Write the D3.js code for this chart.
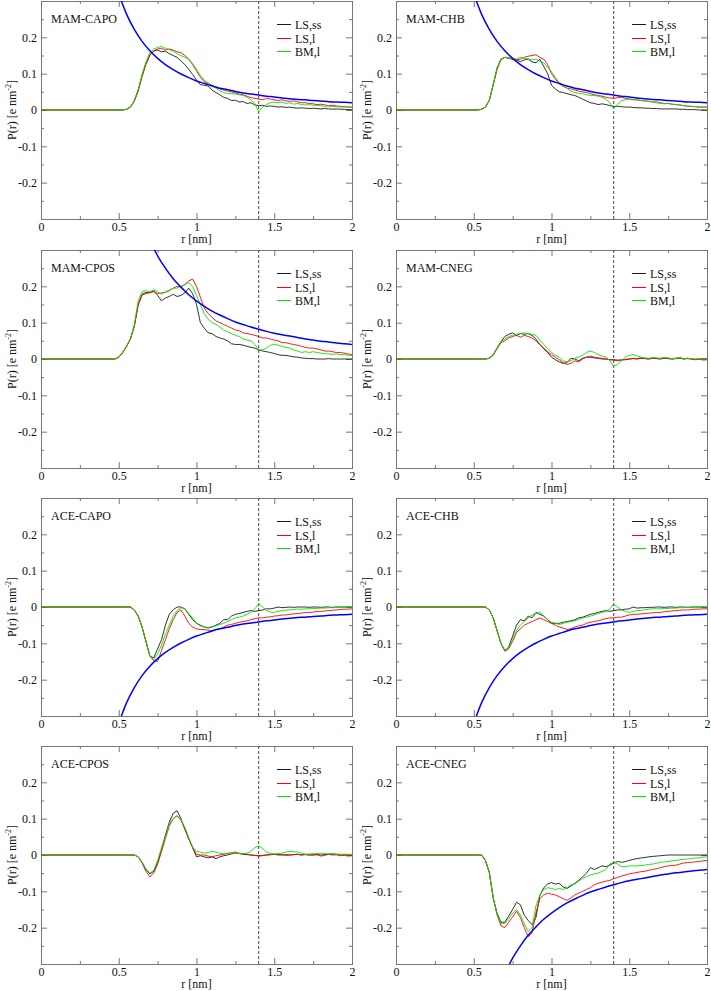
<!DOCTYPE html>
<html><head><meta charset="utf-8">
<script src="https://cdn.jsdelivr.net/npm/d3@7"></script>
<style>body{margin:0;background:#fff}svg{display:block}text{font-family:'Liberation Serif','Times New Roman',serif}</style>
</head><body>
<script>
// ---- categories / labels ----
const panelNames = ["MAM-CAPO","MAM-CHB","MAM-CPOS","MAM-CNEG","ACE-CAPO","ACE-CHB","ACE-CPOS","ACE-CNEG"];
const seriesNames = ["LS,ss","LS,l","BM,l"];
const xTickValues = [0,0.5,1,1.5,2];
const xTickLabels = ["0","0.5","1","1.5","2"];
const yTickValues = [-0.2,-0.1,0,0.1,0.2];
const yTickLabels = ["-0.2","-0.1","0","0.1","0.2"];
const cutoffR = 1.4;

// r grid (nm): 0, then 0.45 ... 2.0 every 0.025
const rGrid = [0].concat(d3.range(0.45, 2.0001, 0.025));
// r grid for the continuum (blue) curves: 0.5 ... 2.0 every 0.05
const rBlue = d3.range(0.5, 2.0001, 0.05);

// ---- series values, in units of 1e-3 e nm^-2 ----
const mamCapoLSss = [0,
 0,0,0,0,2,8,25,55,95,128,
 152,162,165,160,162,155,150,145,135,125,
 112,98,82,70,68,66,55,48,42,35,
 32,26,27,22,23,18,20,14,12,13,
 10,11,10,8,9,7,8,6,5,6,
 5,4,5,4,3,4,3,2,3,2,
 2,1,1];
const mamCapoLSl = [0,
 0,0,0,0,2,8,24,52,92,125,
 150,163,168,170,165,168,165,160,158,150,
 140,125,108,90,78,72,68,62,58,55,
 52,50,47,44,42,38,34,32,30,28,
 32,30,28,26,28,25,24,25,22,20,
 20,18,17,15,16,14,12,13,11,10,
 9,8,8];
const mamCapoBMl = [0,
 0,0,0,0,2,9,26,56,98,132,
 158,168,172,175,170,166,162,155,150,145,
 140,128,112,95,82,75,68,60,52,48,
 45,45,44,42,40,35,28,18,-5,8,
 15,20,22,20,22,18,20,16,18,15,
 14,15,13,12,12,10,11,9,10,8,
 9,8,8];

const mamChbLSss = [0,
 0,0,0,0,2,8,27,70,115,140,
 145,143,140,138,133,138,140,132,130,140,
 120,100,68,58,50,48,45,42,40,35,
 30,25,20,18,15,17,15,12,10,10,
 9,8,8,7,6,6,5,5,4,4,
 3,3,3,3,3,2,2,1,1,1,
 0,0,0];
const mamChbLSl = [0,
 0,0,0,0,2,8,26,68,112,138,
 145,142,140,138,140,145,148,150,152,145,
 140,125,100,85,72,65,60,58,55,52,
 50,48,45,42,40,38,35,33,32,34,
 35,32,30,28,28,26,25,24,22,22,
 20,18,18,16,15,14,12,10,10,9,
 8,8,8];
const mamChbBMl = [0,
 0,0,0,0,2,8,27,70,116,140,
 145,143,142,140,145,142,140,138,140,135,
 130,118,105,90,75,68,60,52,48,46,
 45,42,40,40,38,35,30,20,3,15,
 25,28,30,29,28,26,25,24,22,20,
 18,17,18,16,15,13,12,11,10,9,
 8,8,7];

const mamCposLSss = [0,
 0,0,5,18,35,55,90,150,178,183,
 182,188,175,160,168,172,178,172,175,182,
 195,180,150,100,85,72,70,62,58,55,
 50,42,40,40,38,35,32,30,25,22,
 20,18,15,12,10,10,8,6,5,3,
 2,1,1,0,0,0,1,0,0,0,
 0,0,0];
const mamCposLSl = [0,
 0,0,5,17,34,55,90,148,176,180,
 183,185,180,182,183,188,195,200,198,205,
 215,220,200,170,140,125,115,105,100,95,
 90,85,80,78,72,70,68,65,62,58,
 58,55,52,50,45,45,42,40,38,35,
 32,30,30,28,25,22,22,20,18,18,
 16,14,12];
const mamCposBMl = [0,
 0,0,5,18,36,56,95,160,185,188,
 185,190,185,178,185,190,195,195,200,205,
 210,200,175,150,125,110,100,95,88,80,
 75,70,65,62,55,52,50,40,25,25,
 30,38,40,38,35,32,30,25,22,18,
 20,18,20,18,16,15,14,13,14,12,
 12,10,10];

const mamCnegLSss = [0,
 0,0,0,0,0,0,2,12,30,48,
 62,68,72,65,70,68,70,65,55,40,
 28,18,5,-2,-8,-12,-10,2,0,-5,
 2,5,5,3,2,0,0,-2,-2,-3,
 -3,-2,0,1,0,2,1,0,2,1,
 0,2,1,0,1,2,0,1,0,-1,
 0,1,0];
const mamCnegLSl = [0,
 0,0,0,0,0,0,2,10,28,45,
 50,58,62,65,60,65,62,58,50,40,
 30,20,12,5,-2,-10,-15,-12,-5,-8,
 0,5,8,5,3,2,0,-2,-3,-5,
 -2,-1,0,2,1,3,2,0,3,2,
 1,3,2,0,2,4,1,2,0,-2,
 0,-3,-2];
const mamCnegBMl = [0,
 0,0,0,0,0,0,2,12,30,48,
 55,62,65,68,70,72,70,68,65,52,
 40,28,18,10,5,-5,-8,-5,2,5,
 10,18,22,18,12,8,5,-5,-20,-15,
 -5,5,10,12,8,5,3,2,4,3,
 2,4,3,1,2,3,0,2,1,0,
 1,0,0];

const aceCapoLSss = [0,
 0,0,0,0,0,0,-8,-25,-55,-95,
 -135,-140,-115,-90,-50,-20,-8,0,0,-5,
 -20,-35,-45,-50,-55,-58,-55,-50,-45,-35,
 -35,-25,-20,-18,-15,-12,-10,-12,-10,-8,
 -5,-5,-3,0,-2,-1,0,-1,0,0,
 0,-1,0,0,-1,0,0,-1,0,0,
 0,0,0];
const aceCapoLSl = [0,
 0,0,0,0,0,0,-8,-25,-55,-95,
 -135,-148,-150,-120,-90,-60,-35,-15,-8,-25,
 -45,-55,-60,-62,-62,-64,-65,-62,-60,-55,
 -50,-48,-45,-42,-40,-38,-35,-32,-30,-30,
 -28,-27,-25,-24,-22,-22,-20,-19,-18,-17,
 -15,-15,-14,-12,-12,-11,-10,-9,-8,-7,
 -6,-6,-5];
const aceCapoBMl = [0,
 0,0,0,0,0,0,-8,-25,-55,-95,
 -135,-145,-130,-105,-75,-50,-25,-10,-2,-5,
 -18,-30,-45,-52,-55,-56,-55,-52,-48,-45,
 -40,-35,-30,-28,-25,-20,-15,-5,8,0,
 -10,-14,-15,-12,-10,-9,-8,-7,-6,-6,
 -5,-5,-4,-4,-3,-3,-2,-2,-1,-1,
 0,0,0];

const aceChbLSss = [0,
 0,0,0,0,0,0,-8,-30,-65,-100,
 -120,-110,-80,-50,-35,-38,-25,-30,-15,-20,
 -25,-35,-45,-45,-45,-42,-40,-38,-35,-30,
 -28,-24,-20,-18,-15,-12,-10,-12,-10,-8,
 -8,-6,-5,0,-3,-2,-2,-1,-1,0,
 0,-1,0,0,-1,0,0,-1,0,0,
 0,0,0];
const aceChbLSl = [0,
 0,0,0,0,0,0,-8,-30,-65,-100,
 -122,-115,-95,-70,-60,-50,-45,-40,-35,-30,
 -35,-40,-45,-50,-55,-58,-62,-60,-55,-52,
 -50,-45,-42,-40,-38,-35,-32,-30,-30,-28,
 -28,-25,-22,-20,-20,-19,-18,-17,-16,-15,
 -15,-13,-12,-11,-10,-9,-8,-8,-7,-6,
 -6,-5,-5];
const aceChbBMl = [0,
 0,0,0,0,0,0,-8,-30,-65,-100,
 -120,-112,-90,-65,-50,-40,-30,-22,-18,-15,
 -25,-35,-42,-45,-48,-45,-42,-40,-38,-34,
 -30,-28,-25,-22,-18,-15,-12,-5,8,0,
 -8,-12,-15,-12,-10,-9,-8,-6,-5,-5,
 -5,-4,-4,-3,-3,-2,-2,-1,-1,0,
 0,0,0];

const acePosLSss = [0,
 0,0,0,0,0,0,0,-5,-20,-40,
 -52,-45,-20,15,55,90,115,122,100,70,
 45,20,-5,-2,-5,-8,-5,-10,-5,-2,
 0,3,5,4,2,1,0,-1,-2,-1,
 0,1,2,1,0,1,0,1,2,0,
 1,0,2,1,0,1,2,0,1,0,
 1,0,0];
const acePosLSl = [0,
 0,0,0,0,0,0,0,-5,-22,-45,
 -60,-50,-25,10,45,80,100,108,95,75,
 45,20,2,0,0,-3,-5,-2,0,2,
 5,6,8,5,3,2,0,-1,-3,-2,
 0,1,2,0,1,-1,0,1,2,0,
 2,0,-1,1,-3,-1,2,3,1,-2,
 -1,-3,-2];
const acePosBMl = [0,
 0,0,0,0,0,0,0,-5,-20,-38,
 -50,-42,-15,20,50,85,100,108,98,75,
 48,22,10,8,5,7,10,8,5,4,
 3,4,5,4,3,5,10,20,25,18,
 8,4,3,4,5,8,10,9,8,5,
 2,3,3,4,5,4,3,4,3,2,
 2,2,2];

const aceNegLSss = [0,
 0,0,0,0,0,-15,-48,-118,-160,-185,
 -185,-168,-150,-130,-137,-166,-180,-192,-172,-112,
 -90,-80,-76,-80,-78,-88,-92,-85,-78,-70,
 -60,-50,-35,-40,-35,-30,-32,-28,-22,-18,
 -20,-18,-15,-12,-10,-8,-7,-5,-4,-3,
 -2,-1,0,0,0,0,0,0,0,0,
 0,0,0];
const aceNegLSl = [0,
 0,0,0,0,0,-15,-48,-118,-165,-195,
 -200,-185,-170,-155,-172,-200,-225,-215,-160,-120,
 -110,-105,-108,-110,-115,-120,-125,-118,-110,-105,
 -100,-95,-90,-82,-78,-75,-72,-70,-65,-62,
 -58,-55,-52,-50,-48,-46,-45,-42,-40,-38,
 -35,-32,-30,-29,-28,-25,-22,-21,-20,-19,
 -18,-16,-15];
const aceNegBMl = [0,
 0,0,0,0,0,-15,-48,-118,-163,-190,
 -188,-175,-160,-150,-165,-190,-210,-200,-140,-110,
 -95,-90,-92,-95,-92,-95,-90,-82,-80,-72,
 -65,-60,-55,-52,-50,-45,-40,-25,-20,-25,
 -32,-32,-30,-30,-30,-29,-28,-26,-25,-23,
 -20,-19,-18,-16,-15,-13,-12,-11,-10,-8,
 -8,-6,-5];

// continuum reference curves (blue), 1e-3 e nm^-2, on rBlue
const blueMamSmall = [320,264,222,189,163,142,125,111,99,89,80,73,66,60,56,51,47,44,41,38,36,33,31,29,28,26,25,23,22,21,20];
const blueMamLarge = [640,529,444,379,327,284,250,221,198,177,160,145,132,121,111,102,95,88,82,76,71,67,63,59,55,52,49,47,44,42,40];
const blueAceSmall = [-320,-264,-222,-189,-163,-142,-125,-111,-99,-89,-80,-73,-66,-60,-56,-51,-47,-44,-41,-38,-36,-33,-31,-29,-28,-26,-25,-23,-22,-21,-20];
const blueAceLarge = [-640,-529,-444,-379,-327,-284,-250,-221,-198,-177,-160,-145,-132,-121,-111,-102,-95,-88,-82,-76,-71,-67,-63,-59,-55,-52,-49,-47,-44,-42,-40];

const panelSeries = [
  [mamCapoLSss, mamCapoLSl, mamCapoBMl],
  [mamChbLSss, mamChbLSl, mamChbBMl],
  [mamCposLSss, mamCposLSl, mamCposBMl],
  [mamCnegLSss, mamCnegLSl, mamCnegBMl],
  [aceCapoLSss, aceCapoLSl, aceCapoBMl],
  [aceChbLSss, aceChbLSl, aceChbBMl],
  [acePosLSss, acePosLSl, acePosBMl],
  [aceNegLSss, aceNegLSl, aceNegBMl]
];
const panelBlue = [blueMamSmall, blueMamSmall, blueMamLarge, null, blueAceSmall, blueAceSmall, null, blueAceLarge];

// ---- drawing ----
const W = 711, H = 991;
const seriesColors = ["#1a1a1a","#ff0000","#00e600"];
const blueColor = "#0000ff";
const frameColor = "#777";
const font = "'Liberation Serif', 'Times New Roman', serif";

const svg = d3.select("body").append("svg").attr("width", W).attr("height", H)
  .attr("font-family", font);

const colX = [41, 396], plotW = 311;
const rowTop = [1, 250, 498, 746], plotH = 218;

panelNames.forEach((name, idx) => {
  const col = idx % 2, row = Math.floor(idx / 2);
  const x0 = colX[col], y0 = rowTop[row];
  const x = d3.scaleLinear().domain([0, 2]).range([x0, x0 + plotW]);
  const y = d3.scaleLinear().domain([-0.3, 0.3]).range([y0 + plotH, y0]);
  const g = svg.append("g");

  const clipId = "clip" + idx;
  svg.append("clipPath").attr("id", clipId).append("rect")
    .attr("x", x0).attr("y", y0).attr("width", plotW).attr("height", plotH);

  // axes (ticks inward on all four sides)
  const minorX = [0.25, 0.75, 1.25, 1.75];
  const minorY = [-0.25,-0.15,-0.05,0.05,0.15,0.25];
  const mk = (axis, tr) => {
    const a = g.append("g").attr("transform", tr).call(axis).attr("font-family", font);
    a.select(".domain").remove();
    a.selectAll(".tick line").attr("stroke", frameColor);
    a.selectAll("text").attr("fill", "#111").attr("font-size", 12).attr("font-family", font);
    return a;
  };
  mk(d3.axisBottom(x).tickValues(xTickValues).tickFormat((d,i)=>xTickLabels[i]).tickSize(-6).tickPadding(3.5), `translate(0,${y0+plotH})`);
  mk(d3.axisBottom(x).tickValues(minorX).tickFormat("").tickSize(-3), `translate(0,${y0+plotH})`);
  mk(d3.axisTop(x).tickValues(xTickValues).tickFormat("").tickSize(-6), `translate(0,${y0})`);
  mk(d3.axisTop(x).tickValues(minorX).tickFormat("").tickSize(-3), `translate(0,${y0})`);
  mk(d3.axisLeft(y).tickValues(yTickValues).tickFormat((d,i)=>yTickLabels[i]).tickSize(-6).tickPadding(4), `translate(${x0},0)`);
  mk(d3.axisLeft(y).tickValues(minorY).tickFormat("").tickSize(-3), `translate(${x0},0)`);
  mk(d3.axisRight(y).tickValues(yTickValues).tickFormat("").tickSize(-6), `translate(${x0+plotW},0)`);
  mk(d3.axisRight(y).tickValues(minorY).tickFormat("").tickSize(-3), `translate(${x0+plotW},0)`);

  // frame
  g.append("rect").attr("x", x0 + 0.5).attr("y", y0 + 0.5).attr("width", plotW).attr("height", plotH)
    .attr("fill", "none").attr("stroke", frameColor).attr("stroke-width", 1);

  // axis labels
  g.append("text").attr("x", x0 + plotW / 2).attr("y", y0 + plotH + 24)
    .attr("text-anchor", "middle").attr("font-size", 12).attr("fill", "#111").text("r [nm]");
  const yl = g.append("text")
    .attr("transform", `translate(${x0 - 25},${y0 + plotH / 2}) rotate(-90)`)
    .attr("text-anchor", "middle").attr("font-size", 12).attr("fill", "#111");
  yl.append("tspan").text("P(r) [e nm");
  yl.append("tspan").attr("dy", -5).attr("font-size", 8).text("-2");
  yl.append("tspan").attr("dy", 5).text("]");

  // cutoff dashed line
  g.append("line").attr("x1", x(cutoffR)).attr("x2", x(cutoffR))
    .attr("y1", y0).attr("y2", y0 + plotH)
    .attr("stroke", "#444").attr("stroke-width", 1).attr("stroke-dasharray", "3,2");

  const data = g.append("g").attr("clip-path", `url(#${clipId})`);
  const line = d3.line().x(d => x(d[0])).y(d => y(d[1] / 1000));
  panelSeries[idx].forEach((vals, si) => {
    data.append("path").datum(rGrid.map((r, i) => [r, vals[i]]))
      .attr("d", line).attr("fill", "none")
      .attr("stroke", seriesColors[si]).attr("stroke-width", 0.9)
      .attr("stroke-linejoin", "round");
  });
  if (panelBlue[idx]) {
    const bl = d3.line().curve(d3.curveMonotoneX).x(d => x(d[0])).y(d => y(d[1] / 1000));
    data.append("path").datum(rBlue.map((r, i) => [r, panelBlue[idx][i]]))
      .attr("d", bl).attr("fill", "none").attr("stroke", blueColor).attr("stroke-width", 1.5);
  }

  // panel label
  g.append("text").attr("x", x0 + 10).attr("y", y0 + 22).attr("font-size", 12)
    .attr("fill", "#111").text(name);

  // legend
  seriesNames.forEach((s, si) => {
    const ly = Math.round(y0 + 23 + 13.5 * si) + 0.5;
    g.append("line").attr("x1", x0 + 236).attr("x2", x0 + 250).attr("y1", ly).attr("y2", ly)
      .attr("stroke", seriesColors[si]).attr("stroke-width", 1);
    g.append("text").attr("x", x0 + 254).attr("y", ly).attr("dy", "0.35em")
      .attr("font-size", 12).attr("fill", "#111").text(s);
  });
});
</script>
</body></html>
